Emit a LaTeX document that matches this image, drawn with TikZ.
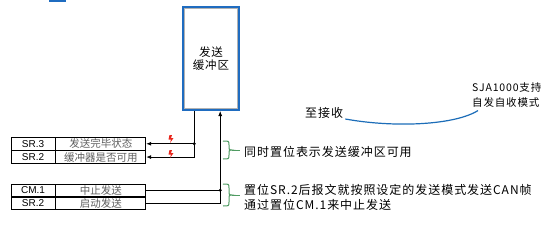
\documentclass[tikz,border=0pt]{standalone}
\usepackage{fontspec}
\setmainfont{Liberation Sans}
\newfontfamily\cjk[LetterSpace=8]{Noto Sans CJK SC}
\newfontfamily\cjkplain{Noto Sans CJK SC}
\usetikzlibrary{positioning,arrows.meta,calc}
\definecolor{bufblue}{HTML}{1F6CC0}
\definecolor{curveblue}{HTML}{1C6DB8}
\definecolor{bracegreen}{HTML}{4F9B62}
\definecolor{flashred}{HTML}{E8261C}
\definecolor{cellgray}{HTML}{5E5E5E}
\tikzset{
    every node/.style={font=\small},
    bufbox/.style={draw=bufblue,fill=white,line width=2pt,minimum width=56pt,minimum height=103pt,align=center,font=\cjk\fontsize{11.5}{13}\selectfont},
    regkey/.style={draw,line width=0.8pt,minimum width=44pt,minimum height=12.5pt,inner sep=0pt,font=\fontsize{10}{12}\selectfont},
    regtext/.style={draw,line width=0.8pt,minimum width=90pt,minimum height=12.5pt,inner sep=0pt,text=cellgray,font=\cjkplain\fontsize{10.5}{12}\selectfont},
    note/.style={anchor=west,align=left,inner sep=0pt,font=\cjk\fontsize{12}{15}\selectfont},
    wire/.style={draw,line width=0.8pt,-{Latex[length=5pt,width=4pt]}},
    junc/.style={circle,fill,inner sep=1.1pt},
    brace/.style={draw=bracegreen,line width=1pt},
}
\newcommand{\flashmark}[1]{%
  \fill[flashred] ($(#1)+(-1.5,4)$) -- ++(2.5,0) -- ++(-1,-3) -- ++(2.5,0) -- ++(-3.5,-5) -- ++(1,3.5) -- ++(-2.5,0) -- cycle;}
\newcommand{\gbrace}[4]{% x, top, middle, bottom
  \draw[brace] (#1,#2) .. controls (#1+6,#2) .. (#1+6,#2-4) -- (#1+6,#3+3)
    .. controls (#1+6,#3) .. (#1+9,#3) .. controls (#1+6,#3) .. (#1+6,#3-3)
    -- (#1+6,#4+4) .. controls (#1+6,#4) .. (#1,#4);
  \draw[brace] (#1+9,#3) -- (#1+17,#3);}

\begin{document}
\begin{tikzpicture}[x=1pt,y=1pt]
\useasboundingbox (0,0) rectangle (554,-225);
\fill[bufblue] (49,0) rectangle (66,-2);

% transmit buffer
\node[bufbox] (buf) at (211,-58.5) {发送\\缓冲区};
\draw[gray!60] ($(buf.north west)+(2.5,-2.5)$) rectangle ($(buf.south east)+(-2.5,2.5)$);

% status registers
\node[regkey] (sr3k) at (33,-143.75) {SR.3};
\node[regtext,right=0pt of sr3k] (sr3v) {发送完毕状态};
\node[regkey,below=0pt of sr3k] (sr2ak) {SR.2};
\node[regtext,right=0pt of sr2ak] (sr2av) {缓冲器是否可用};

% command registers
\node[regkey] (cm1k) at (33,-190.25) {CM.1};
\node[regtext,right=0pt of cm1k] (cm1v) {中止发送};
\node[regkey,below=0pt of cm1k] (sr2bk) {SR.2};
\node[regtext,right=0pt of sr2bk] (sr2bv) {启动发送};

\coordinate (j1) at ($(sr3v.east)+(48,0)$);
\coordinate (j2) at ($(cm1v.east)+(74,0)$);

\draw[wire] (buf.south -| j1) -- (j1) -- (sr3v.east);
\draw[wire] (j1) |- (sr2av.east);
\node[junc] at (j1) {};
\draw[wire] (cm1v.east) -- (j2) -- (j2 |- buf.south);
\draw[line width=0.8pt] (sr2bv.east) -| (j2);
\node[junc] at (j2) {};

\flashmark{171,-139}
\flashmark{171,-154}

% notes
\gbrace{223}{-141}{-150}{-159}
\node[note] (avail) at (244,-151.5) {同时置位表示发送缓冲区可用};
\gbrace{223}{-184}{-195}{-206}
\node[note] (start) at (244,-197.5) {置位SR.2后报文就按照设定的发送模式发送CAN帧\\通过置位CM.1来中止发送};

\node[note] (recv) at (305,-113) {至接收};
\node[note,font=\cjk\fontsize{10.5}{15}\selectfont] (sja) at (472,-95) {SJA1000支持\\自发自收模式};
\draw[curveblue,line width=1.2pt] ($(recv.east)+(2,-6)$) .. controls (395,-128) and (455,-125) .. ($(sja.south west)+(6,-3)$);
\end{tikzpicture}
\end{document}
